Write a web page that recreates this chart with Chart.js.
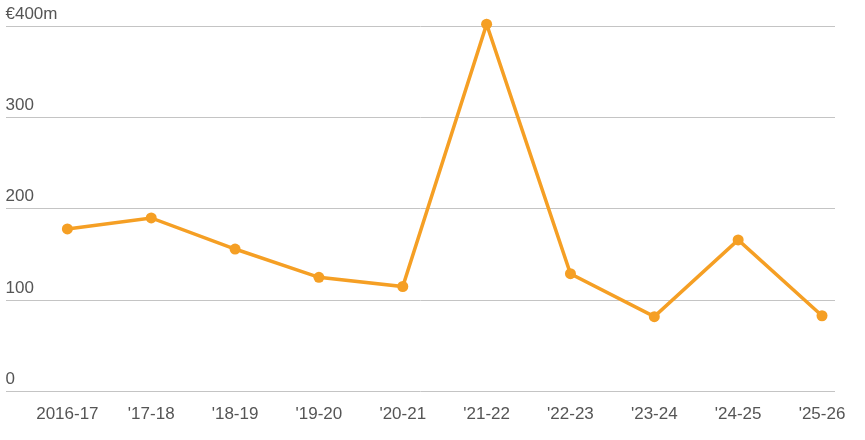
<!DOCTYPE html>
<html>
<head>
<meta charset="utf-8">
<script src="https://cdn.jsdelivr.net/npm/chart.js@4/dist/chart.umd.min.js"></script>
<style>
    html, body { margin: 0; padding: 0; background: #fff; }
    #wrap { width: 865px; height: 440px; position: relative; }
</style>
</head>
<body>
<div id="wrap"><canvas id="myChart"></canvas></div>
<script>
// Données du graphique
const seasons = ['2016-17', "'17-18", "'18-19", "'19-20", "'20-21", "'21-22", "'22-23", "'23-24", "'24-25", "'25-26"];
const amounts = [178, 190, 156, 125, 115, 402, 129, 82, 166, 83];
const yTicks = [0, 100, 200, 300, 400];
const yTickLabels = ['0', '100', '200', '300', '€400m'];

const orange = '#f59f24';
const textColor = '#555555';
const font = { family: "'Liberation Sans', Arial, sans-serif", size: 17 };

document.addEventListener('DOMContentLoaded', function() {
    const ctx = document.getElementById('myChart').getContext('2d');
    const myChart = new Chart(ctx, {
        type: 'line',
        data: {
            datasets: [{
                data: amounts.map((v, i) => ({ x: i, y: v })),
                borderColor: orange,
                backgroundColor: orange,
                borderWidth: 3.5,
                pointRadius: 5.5,
                pointHoverRadius: 5.5,
                pointBorderWidth: 0,
                tension: 0,
                clip: false
            }]
        },
        options: {
            responsive: true,
            maintainAspectRatio: false,
            animation: false,
            layout: { padding: { left: 4, right: 30, top: 26, bottom: 10 } },
            plugins: { legend: { display: false }, tooltip: { enabled: false } },
            scales: {
                x: {
                    type: 'linear',
                    min: -0.738,
                    max: 9.155,
                    grid: { display: false },
                    border: { display: false },
                    afterBuildTicks: function(axis) {
                        axis.ticks = seasons.map((s, i) => ({ value: i }));
                    },
                    ticks: {
                        autoSkip: false,
                        maxRotation: 0,
                        padding: 5,
                        color: textColor,
                        font: font,
                        callback: function(value) { return seasons[value]; }
                    }
                },
                y: {
                    min: 0,
                    max: 400,
                    border: { display: false },
                    grid: { color: '#c4c4c4', lineWidth: 1, drawTicks: false },
                    afterBuildTicks: function(axis) {
                        axis.ticks = yTicks.map(v => ({ value: v }));
                    },
                    ticks: {
                        mirror: true,
                        padding: 0,
                        labelOffset: -12,
                        color: textColor,
                        font: font,
                        callback: function(value) { return yTickLabels[yTicks.indexOf(value)]; }
                    }
                }
            }
        }
    });
});
</script>
</body>
</html>
